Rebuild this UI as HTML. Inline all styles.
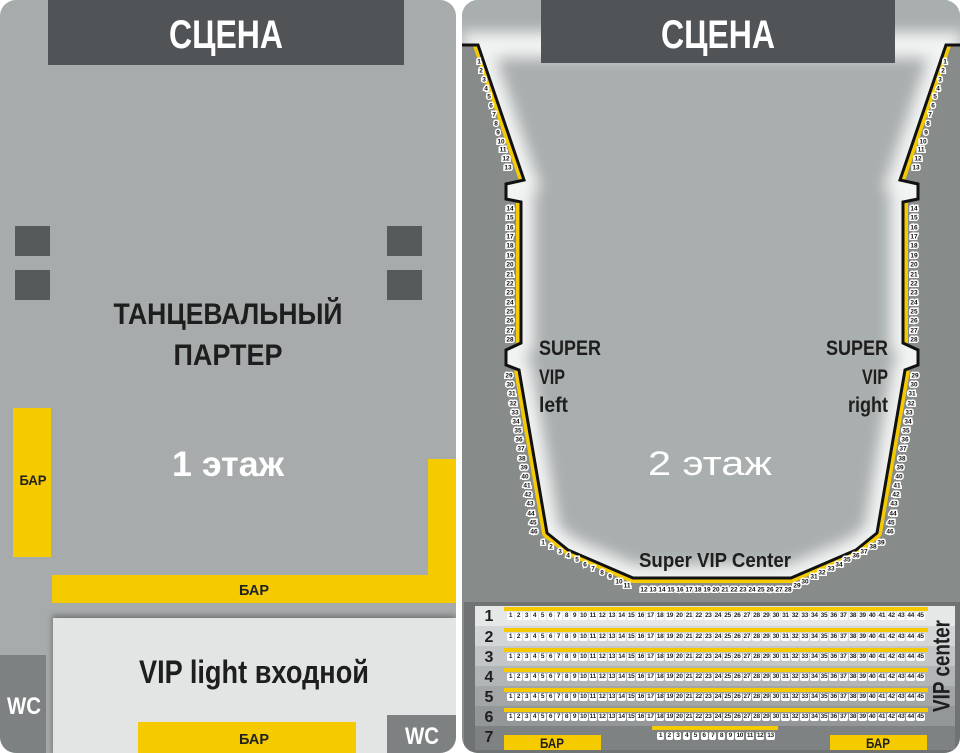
<!DOCTYPE html>
<html><head><meta charset="utf-8"><style>
html,body{margin:0;padding:0;background:#fff;}
body{width:960px;height:753px;position:relative;overflow:hidden;font-family:"Liberation Sans",sans-serif;}
svg{position:absolute;left:0;top:0;}
.row{position:absolute;left:507px;width:418px;display:flex;justify-content:space-between;}
.row i{font-style:normal;background:#fff;color:#222;font:bold 6.5px/8px "Liberation Sans",sans-serif;padding:0 1px;border-radius:2px;min-width:5px;text-align:center;letter-spacing:-0.3px;}
</style></head><body>
<svg width="960" height="753" viewBox="0 0 960 753" font-family="Liberation Sans, sans-serif">
<defs>
<clipPath id="lp"><rect x="0" y="0" width="456" height="753" rx="16"/></clipPath>
<clipPath id="rp"><rect x="462" y="0" width="498" height="753" rx="16"/></clipPath>
<clipPath id="bowl"><polygon points="462,0 960,0 960,45 946,45 900,180 918,184 918,199 903,202 903,343 918,350 918,365 905,370 877,533 856,550 791,578 633,578 568,550 547,533 519,370 506,365 506,350 521,343 521,202 506,199 506,184 524,180 478,45 462,45"/></clipPath>
<filter id="bl" x="-10%" y="-10%" width="120%" height="120%"><feGaussianBlur stdDeviation="7"/></filter>
<filter id="sh"><feGaussianBlur stdDeviation="3"/></filter>
</defs>
<!-- LEFT PANEL -->
<g clip-path="url(#lp)">
<rect x="0" y="0" width="456" height="753" fill="#a7abab"/>
<rect x="48" y="0" width="356" height="65" fill="#505456"/>
<text x="226" y="48" fill="#fff" font-size="40" font-weight="bold" text-anchor="middle" textLength="114" lengthAdjust="spacingAndGlyphs">СЦЕНА</text>
<rect x="15" y="226" width="35" height="30" fill="#555a5b"/>
<rect x="15" y="270" width="35" height="30" fill="#555a5b"/>
<rect x="387" y="226" width="35" height="30" fill="#555a5b"/>
<rect x="387" y="270" width="35" height="30" fill="#555a5b"/>
<text x="228" y="324" fill="#1e1e1e" font-size="30" font-weight="bold" text-anchor="middle" textLength="229" lengthAdjust="spacingAndGlyphs">ТАНЦЕВАЛЬНЫЙ</text>
<text x="228" y="365" fill="#1e1e1e" font-size="30" font-weight="bold" text-anchor="middle" textLength="109" lengthAdjust="spacingAndGlyphs">ПАРТЕР</text>
<text x="228" y="476" fill="#fff" font-size="35" font-weight="bold" text-anchor="middle" textLength="112" lengthAdjust="spacingAndGlyphs">1 этаж</text>
<rect x="13" y="408" width="38" height="149" fill="#f5cb00"/>
<text x="33" y="485" fill="#222" font-size="14" font-weight="bold" text-anchor="middle" textLength="27" lengthAdjust="spacingAndGlyphs">БАР</text>
<rect x="428" y="459" width="28" height="144" fill="#f5cb00"/>
<rect x="52" y="575" width="404" height="28" fill="#f5cb00"/>
<text x="254" y="595" fill="#222" font-size="15" font-weight="bold" text-anchor="middle" textLength="30" lengthAdjust="spacingAndGlyphs">БАР</text>
<rect x="52" y="615" width="404" height="140" fill="#555" filter="url(#sh)" opacity="0.6"/>
<rect x="53" y="618" width="403" height="135" fill="#e3e5e5"/>
<text x="254" y="683" fill="#1e1e1e" font-size="32" font-weight="bold" text-anchor="middle" textLength="230" lengthAdjust="spacingAndGlyphs">VIP light входной</text>
<rect x="0" y="655" width="46" height="98" fill="#7d8181"/>
<text x="24" y="714" fill="#fff" font-size="24" font-weight="bold" text-anchor="middle" textLength="34" lengthAdjust="spacingAndGlyphs">WC</text>
<rect x="138" y="722" width="218" height="31" fill="#f5cb00"/>
<text x="254" y="744" fill="#222" font-size="15" font-weight="bold" text-anchor="middle" textLength="30" lengthAdjust="spacingAndGlyphs">БАР</text>
<rect x="387" y="715" width="69" height="38" fill="#7d8181"/>
<text x="422" y="744" fill="#fff" font-size="24" font-weight="bold" text-anchor="middle" textLength="34" lengthAdjust="spacingAndGlyphs">WC</text>
</g>
<!-- RIGHT PANEL -->
<g clip-path="url(#rp)">
<rect x="462" y="0" width="498" height="753" fill="#878b89"/>
<g stroke="#f5cb00" stroke-width="10" fill="none" stroke-linejoin="round">
<polyline points="478,45 524,180"/>
<polyline points="521,202 521,343"/>
<polyline points="519,370 547,533 568,550 633,578 791,578 856,550 877,533 905,370"/>
<polyline points="903,343 903,202"/>
<polyline points="900,180 946,45"/>
</g>
<g clip-path="url(#bowl)">
<rect x="462" y="0" width="498" height="600" fill="#a9aeae"/>
<polygon points="946,45 900,180 918,184 918,199 903,202 903,343 918,350 918,365 905,370 877,533 856,550 791,578 633,578 568,550 547,533 519,370 506,365 506,350 521,343 521,202 506,199 506,184 524,180 478,45" fill="none" stroke="#fff" stroke-opacity="0.85" stroke-width="26" filter="url(#bl)"/>
</g>
<polyline points="462,45 478,45 524,180 506,184 506,199 521,202 521,343 506,350 506,365 519,370 547,533 568,550 633,578 791,578 856,550 877,533 905,370 918,365 918,350 903,343 903,202 918,199 918,184 900,180 946,45 960,45" fill="none" stroke="#111" stroke-width="3" stroke-linejoin="miter"/>
<rect x="541" y="0" width="354" height="63" fill="#505456"/>
<text x="718" y="48" fill="#fff" font-size="40" font-weight="bold" text-anchor="middle" textLength="114" lengthAdjust="spacingAndGlyphs">СЦЕНА</text>
<g fill="#1e1e1e" font-size="21" font-weight="bold">
<text x="539" y="355" textLength="62" lengthAdjust="spacingAndGlyphs">SUPER</text>
<text x="539" y="384" textLength="26" lengthAdjust="spacingAndGlyphs">VIP</text>
<text x="539" y="412" textLength="29" lengthAdjust="spacingAndGlyphs">left</text>
<text x="888" y="355" text-anchor="end" textLength="62" lengthAdjust="spacingAndGlyphs">SUPER</text>
<text x="888" y="384" text-anchor="end" textLength="26" lengthAdjust="spacingAndGlyphs">VIP</text>
<text x="888" y="412" text-anchor="end" textLength="40" lengthAdjust="spacingAndGlyphs">right</text>
<text x="715" y="567" font-size="20" text-anchor="middle" textLength="152" lengthAdjust="spacingAndGlyphs">Super VIP Center</text>
</g>
<text x="710" y="475" fill="#fff" font-size="34" text-anchor="middle" textLength="124" lengthAdjust="spacingAndGlyphs">2 этаж</text>
<g font-size="6.5" font-weight="bold" fill="#111" stroke="#fff" stroke-width="3" paint-order="stroke" text-anchor="middle" dominant-baseline="central">
<text x="479" y="62">1</text><text x="481" y="71">2</text><text x="484" y="80">3</text><text x="486" y="89">4</text><text x="489" y="97">5</text><text x="491" y="106">6</text><text x="494" y="115">7</text><text x="496" y="124">8</text><text x="498" y="133">9</text><text x="501" y="142">10</text><text x="503" y="150">11</text><text x="506" y="159">12</text><text x="508" y="168">13</text>
<text x="510" y="209">14</text><text x="510" y="218">15</text><text x="510" y="228">16</text><text x="510" y="237">17</text><text x="510" y="246">18</text><text x="510" y="256">19</text><text x="510" y="265">20</text><text x="510" y="275">21</text><text x="510" y="284">22</text><text x="510" y="293">23</text><text x="510" y="303">24</text><text x="510" y="312">25</text><text x="510" y="321">26</text><text x="510" y="331">27</text><text x="510" y="340">28</text>
<text x="509" y="376">29</text><text x="510" y="385">30</text><text x="512" y="394">31</text><text x="513" y="404">32</text><text x="515" y="413">33</text><text x="516" y="422">34</text><text x="518" y="431">35</text><text x="519" y="440">36</text><text x="521" y="449">37</text><text x="522" y="459">38</text><text x="524" y="468">39</text><text x="525" y="477">40</text><text x="527" y="486">41</text><text x="528" y="495">42</text><text x="530" y="504">43</text><text x="531" y="514">44</text><text x="533" y="523">45</text><text x="534" y="532">46</text>
<text x="945" y="62">1</text><text x="943" y="71">2</text><text x="940" y="80">3</text><text x="938" y="89">4</text><text x="935" y="97">5</text><text x="933" y="106">6</text><text x="930" y="115">7</text><text x="928" y="124">8</text><text x="926" y="133">9</text><text x="923" y="142">10</text><text x="921" y="150">11</text><text x="918" y="159">12</text><text x="916" y="168">13</text>
<text x="914" y="209">14</text><text x="914" y="218">15</text><text x="914" y="228">16</text><text x="914" y="237">17</text><text x="914" y="246">18</text><text x="914" y="256">19</text><text x="914" y="265">20</text><text x="914" y="275">21</text><text x="914" y="284">22</text><text x="914" y="293">23</text><text x="914" y="303">24</text><text x="914" y="312">25</text><text x="914" y="321">26</text><text x="914" y="331">27</text><text x="914" y="340">28</text>
<text x="915" y="376">29</text><text x="914" y="385">30</text><text x="912" y="394">31</text><text x="911" y="404">32</text><text x="909" y="413">33</text><text x="908" y="422">34</text><text x="906" y="431">35</text><text x="905" y="440">36</text><text x="903" y="449">37</text><text x="902" y="459">38</text><text x="900" y="468">39</text><text x="899" y="477">40</text><text x="897" y="486">41</text><text x="896" y="495">42</text><text x="894" y="504">43</text><text x="893" y="514">44</text><text x="891" y="523">45</text><text x="890" y="532">46</text>
<text x="543" y="543">1</text><text x="551" y="547">2</text><text x="560" y="552">3</text><text x="568" y="556">4</text><text x="577" y="560">5</text><text x="585" y="565">6</text><text x="593" y="569">7</text><text x="602" y="573">8</text><text x="610" y="577">9</text><text x="619" y="582">10</text><text x="627" y="586">11</text>
<text x="644" y="590">12</text><text x="653" y="590">13</text><text x="662" y="590">14</text><text x="671" y="590">15</text><text x="680" y="590">16</text><text x="689" y="590">17</text><text x="698" y="590">18</text><text x="707" y="590">19</text><text x="716" y="590">20</text><text x="725" y="590">21</text><text x="734" y="590">22</text><text x="743" y="590">23</text><text x="752" y="590">24</text><text x="761" y="590">25</text><text x="770" y="590">26</text><text x="779" y="590">27</text><text x="788" y="590">28</text>
<text x="797" y="586">29</text><text x="805" y="582">30</text><text x="814" y="577">31</text><text x="822" y="573">32</text><text x="831" y="569">33</text><text x="839" y="565">34</text><text x="847" y="560">35</text><text x="856" y="556">36</text><text x="864" y="552">37</text><text x="873" y="547">38</text><text x="881" y="543">39</text>
</g>
<!-- rows -->
<rect x="464" y="602" width="496" height="151" fill="#6f7373"/>
<rect x="475" y="606" width="480" height="20" fill="#e6e8e8"/>
<rect x="475" y="626" width="480" height="20" fill="#d3d6d6"/>
<rect x="475" y="646" width="480" height="20" fill="#c3c6c6"/>
<rect x="475" y="666" width="480" height="20" fill="#b1b5b5"/>
<rect x="475" y="686" width="480" height="20" fill="#a2a6a6"/>
<rect x="475" y="706" width="480" height="20" fill="#939797"/>
<rect x="475" y="726" width="480" height="24" fill="#7e8282"/>
<g fill="#f5cb00">
<rect x="504" y="607" width="424" height="4"/><rect x="504" y="628" width="424" height="4"/><rect x="504" y="648" width="424" height="4"/><rect x="504" y="668" width="424" height="4"/><rect x="504" y="688" width="424" height="4"/><rect x="504" y="708" width="424" height="4"/>
<rect x="652" y="726" width="126" height="4"/>
<rect x="504" y="735" width="97" height="15"/><rect x="830" y="735" width="97" height="15"/>
</g>
<g fill="#1e1e1e" font-size="16" font-weight="bold" text-anchor="middle">
<text x="489" y="621">1</text><text x="489" y="642">2</text><text x="489" y="662">3</text><text x="489" y="682">4</text><text x="489" y="702">5</text><text x="489" y="722">6</text><text x="489" y="742">7</text>
<text x="552" y="748" font-size="14" textLength="24" lengthAdjust="spacingAndGlyphs">БАР</text>
<text x="878" y="748" font-size="14" textLength="24" lengthAdjust="spacingAndGlyphs">БАР</text>
<text transform="translate(942,666) rotate(-90)" font-size="24" textLength="92" lengthAdjust="spacingAndGlyphs" dominant-baseline="central">VIP center</text>
</g>
</g>
</svg>
<div class="row" style="top:612px"><i>1</i><i>2</i><i>3</i><i>4</i><i>5</i><i>6</i><i>7</i><i>8</i><i>9</i><i>10</i><i>11</i><i>12</i><i>13</i><i>14</i><i>15</i><i>16</i><i>17</i><i>18</i><i>19</i><i>20</i><i>21</i><i>22</i><i>23</i><i>24</i><i>25</i><i>26</i><i>27</i><i>28</i><i>29</i><i>30</i><i>31</i><i>32</i><i>33</i><i>34</i><i>35</i><i>36</i><i>37</i><i>38</i><i>39</i><i>40</i><i>41</i><i>42</i><i>43</i><i>44</i><i>45</i></div>
<div class="row" style="top:633px"><i>1</i><i>2</i><i>3</i><i>4</i><i>5</i><i>6</i><i>7</i><i>8</i><i>9</i><i>10</i><i>11</i><i>12</i><i>13</i><i>14</i><i>15</i><i>16</i><i>17</i><i>18</i><i>19</i><i>20</i><i>21</i><i>22</i><i>23</i><i>24</i><i>25</i><i>26</i><i>27</i><i>28</i><i>29</i><i>30</i><i>31</i><i>32</i><i>33</i><i>34</i><i>35</i><i>36</i><i>37</i><i>38</i><i>39</i><i>40</i><i>41</i><i>42</i><i>43</i><i>44</i><i>45</i></div>
<div class="row" style="top:653px"><i>1</i><i>2</i><i>3</i><i>4</i><i>5</i><i>6</i><i>7</i><i>8</i><i>9</i><i>10</i><i>11</i><i>12</i><i>13</i><i>14</i><i>15</i><i>16</i><i>17</i><i>18</i><i>19</i><i>20</i><i>21</i><i>22</i><i>23</i><i>24</i><i>25</i><i>26</i><i>27</i><i>28</i><i>29</i><i>30</i><i>31</i><i>32</i><i>33</i><i>34</i><i>35</i><i>36</i><i>37</i><i>38</i><i>39</i><i>40</i><i>41</i><i>42</i><i>43</i><i>44</i><i>45</i></div>
<div class="row" style="top:673px"><i>1</i><i>2</i><i>3</i><i>4</i><i>5</i><i>6</i><i>7</i><i>8</i><i>9</i><i>10</i><i>11</i><i>12</i><i>13</i><i>14</i><i>15</i><i>16</i><i>17</i><i>18</i><i>19</i><i>20</i><i>21</i><i>22</i><i>23</i><i>24</i><i>25</i><i>26</i><i>27</i><i>28</i><i>29</i><i>30</i><i>31</i><i>32</i><i>33</i><i>34</i><i>35</i><i>36</i><i>37</i><i>38</i><i>39</i><i>40</i><i>41</i><i>42</i><i>43</i><i>44</i><i>45</i></div>
<div class="row" style="top:693px"><i>1</i><i>2</i><i>3</i><i>4</i><i>5</i><i>6</i><i>7</i><i>8</i><i>9</i><i>10</i><i>11</i><i>12</i><i>13</i><i>14</i><i>15</i><i>16</i><i>17</i><i>18</i><i>19</i><i>20</i><i>21</i><i>22</i><i>23</i><i>24</i><i>25</i><i>26</i><i>27</i><i>28</i><i>29</i><i>30</i><i>31</i><i>32</i><i>33</i><i>34</i><i>35</i><i>36</i><i>37</i><i>38</i><i>39</i><i>40</i><i>41</i><i>42</i><i>43</i><i>44</i><i>45</i></div>
<div class="row" style="top:713px"><i>1</i><i>2</i><i>3</i><i>4</i><i>5</i><i>6</i><i>7</i><i>8</i><i>9</i><i>10</i><i>11</i><i>12</i><i>13</i><i>14</i><i>15</i><i>16</i><i>17</i><i>18</i><i>19</i><i>20</i><i>21</i><i>22</i><i>23</i><i>24</i><i>25</i><i>26</i><i>27</i><i>28</i><i>29</i><i>30</i><i>31</i><i>32</i><i>33</i><i>34</i><i>35</i><i>36</i><i>37</i><i>38</i><i>39</i><i>40</i><i>41</i><i>42</i><i>43</i><i>44</i><i>45</i></div>
<div class="row" style="top:732px;left:657px;width:118px"><i>1</i><i>2</i><i>3</i><i>4</i><i>5</i><i>6</i><i>7</i><i>8</i><i>9</i><i>10</i><i>11</i><i>12</i><i>13</i></div>
</body></html>
